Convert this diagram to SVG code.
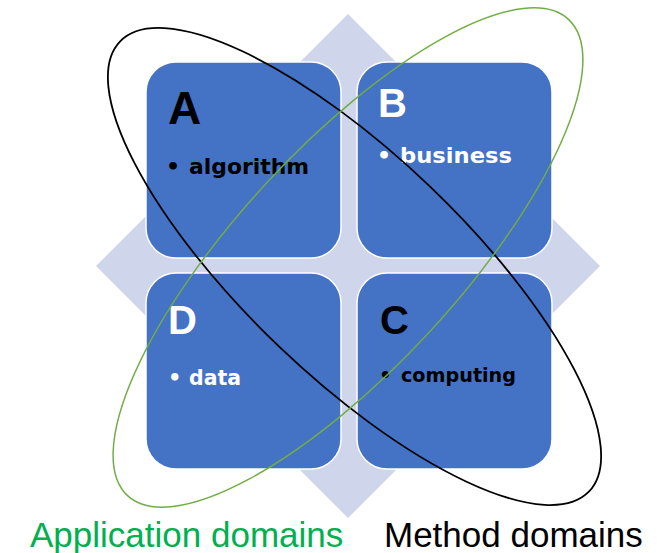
<svg xmlns="http://www.w3.org/2000/svg" width="662" height="553" viewBox="0 0 662 553">
<style>
.box{fill:#4472C4;stroke:#FFFFFF;stroke-width:1.5}
.big{font-family:"Liberation Sans",Arial,sans-serif;font-weight:bold}
.small{font-family:"DejaVu Sans","Liberation Sans",sans-serif;font-weight:bold}
.blk{fill:#000000}
.wht{fill:#FFFFFF}
.lbl{font-family:"Liberation Sans",Arial,sans-serif;font-size:35px}
</style>
<rect width="662" height="553" fill="#FFFFFF"/>
<polygon id="diamond" points="348,14 600,266 348,518 96,266" fill="#CFD5EA"/>
<g id="nodeA">
<rect class="box" x="146" y="62" width="195" height="196" rx="30" ry="30"/>
<text class="big blk" x="168" y="124" font-size="46">A</text>
<text class="small blk" font-size="22"><tspan x="166" y="174">•</tspan><tspan x="189" y="174" textLength="120" lengthAdjust="spacingAndGlyphs">algorithm</tspan></text>
</g>
<g id="nodeB">
<rect class="box" x="357" y="62" width="195" height="196" rx="30" ry="30"/>
<text class="big wht" x="378" y="117" font-size="40">B</text>
<text class="small wht" font-size="22"><tspan x="377" y="163">•</tspan><tspan x="400" y="163" textLength="112" lengthAdjust="spacingAndGlyphs">business</tspan></text>
</g>
<g id="nodeD">
<rect class="box" x="146" y="273" width="195" height="196" rx="30" ry="30"/>
<text class="big wht" x="168" y="334" font-size="40">D</text>
<text class="small wht" font-size="21"><tspan x="168" y="385">•</tspan><tspan x="189" y="385" textLength="52" lengthAdjust="spacingAndGlyphs">data</tspan></text>
</g>
<g id="nodeC">
<rect class="box" x="357" y="273" width="195" height="196" rx="30" ry="30"/>
<text class="big blk" x="380" y="334" font-size="40">C</text>
<text class="small blk" font-size="20"><tspan x="379" y="382">•</tspan><tspan x="401" y="382" textLength="115" lengthAdjust="spacingAndGlyphs">computing</tspan></text>
</g>
<g id="connectors" fill="none">
<ellipse id="method" cx="354.5" cy="266.5" rx="325" ry="110" transform="rotate(43.8 354.5 266.5)" stroke="#000000" stroke-width="1.8"/>
<ellipse id="application" cx="348" cy="257.5" rx="324.5" ry="110.4" transform="rotate(-47.2 348 257.5)" stroke="#70AD47" stroke-width="1.5"/>
</g>
<text class="lbl" x="30" y="547" fill="#00B050">Application domains</text>
<text class="lbl" x="384" y="547" fill="#000000">Method domains</text>
</svg>
